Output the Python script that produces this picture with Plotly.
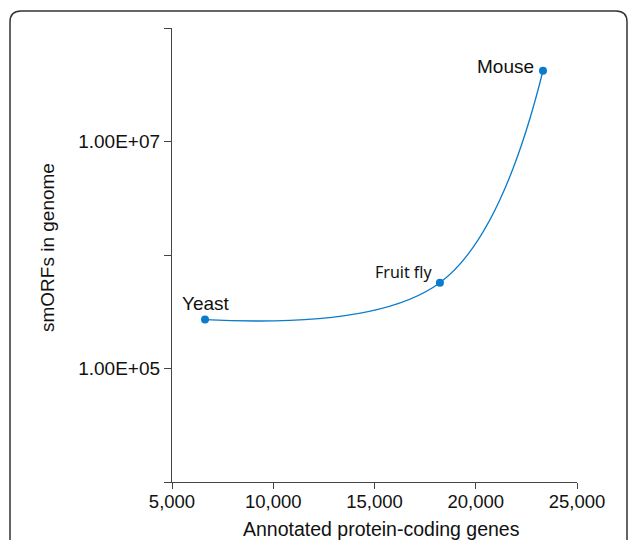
import math
import plotly.graph_objects as go

organisms = ["Yeast", "Fruit fly", "Mouse"]
genes = [6630, 18230, 23320]
smorfs = [2.7e5, 5.7e5, 4.2e7]

y_tickvals = [1e4, 1e5, 1e6, 1e7, 1e8]
y_ticktext = ["", "1.00E+05", "", "1.00E+07", ""]
x_tickvals = [5000, 10000, 15000, 20000, 25000]
x_ticktext = ["5,000", "10,000", "15,000", "20,000", "25,000"]

W, H = 629, 540
L, R, T, B = 172, 52, 28, 58
pw, ph = W - L - R, H - T - B

color = "#0b7bcb"
fig = go.Figure()
fig.add_trace(go.Scatter(
    x=genes, y=smorfs, mode="lines+markers",
    line=dict(color=color, width=1.3, shape="spline", smoothing=1.1),
    marker=dict(color=color, size=8),
    hoverinfo="skip", showlegend=False,
))

font = "Liberation Sans, Arial, sans-serif"
label_style = {
    "Yeast": (1, 16, "Liberation Sans", 19),
    "Fruit fly": (-36, 11, "Noto Sans", 16),
    "Mouse": (-37, 4, "Liberation Sans", 19),
}
for name, gx, sy in zip(organisms, genes, smorfs):
    dx, dy, f, s = label_style[name]
    fig.add_annotation(x=gx, y=math.log10(sy), text=name, showarrow=False,
                       xshift=dx, yshift=dy, font=dict(family=f, size=s, color="#111"))


def px(xp):
    return (xp - L) / pw


def py(yp):
    return (H - B - yp) / ph


# axis titles
fig.add_annotation(x=px(381), y=py(529), xref="paper", yref="paper", text="Annotated protein-coding genes",
                   xanchor="center", yanchor="middle",
                   showarrow=False, font=dict(size=19.5, color="#111"))
fig.add_annotation(x=px(47), y=py(248), xref="paper", yref="paper", text="smORFs in genome",
                   xanchor="center", yanchor="middle",
                   textangle=-90, showarrow=False, font=dict(size=19, color="#111"))

x0, x1, y0, y1 = px(10), px(627), py(11), py(560)
rx, ry = 11 / pw, 11 / ph
path = (f"M {x0},{y1} L {x0},{y0 - ry} Q {x0},{y0} {x0 + rx},{y0} "
        f"L {x1 - rx},{y0} Q {x1},{y0} {x1},{y0 - ry} L {x1},{y1}")
fig.add_shape(type="path", xref="paper", yref="paper", path=path,
              line=dict(color="#333", width=1.5), layer="below")

fig.update_layout(
    width=W, height=H, margin=dict(l=L, r=R, t=T, b=B),
    plot_bgcolor="white", paper_bgcolor="white",
    font=dict(family=font, size=17, color="#111"),
    xaxis=dict(range=[5000, 25000], tickvals=x_tickvals, ticktext=x_ticktext,
               tickfont=dict(size=18.5), ticklabelstandoff=-3,
               showgrid=False, zeroline=False, showline=True, linecolor="#444", linewidth=1.3,
               ticks="outside", ticklen=6, tickcolor="#444", tickwidth=1.3),
    yaxis=dict(type="log", range=[4, 8], tickvals=y_tickvals, ticktext=y_ticktext,
               tickfont=dict(size=19),
               showgrid=False, zeroline=False, showline=True, linecolor="#444", linewidth=1.3,
               ticks="outside", ticklen=7, tickcolor="#444", tickwidth=1.3),
)

fig.write_html("out.html", config={"displayModeBar": False})
with open("out.html", encoding="utf-8") as fh:
    html = fh.read()
html = html.replace("<body>", '<body style="margin:0;padding:0;overflow:hidden">', 1)
with open("out.html", "w", encoding="utf-8") as fh:
    fh.write(html)
